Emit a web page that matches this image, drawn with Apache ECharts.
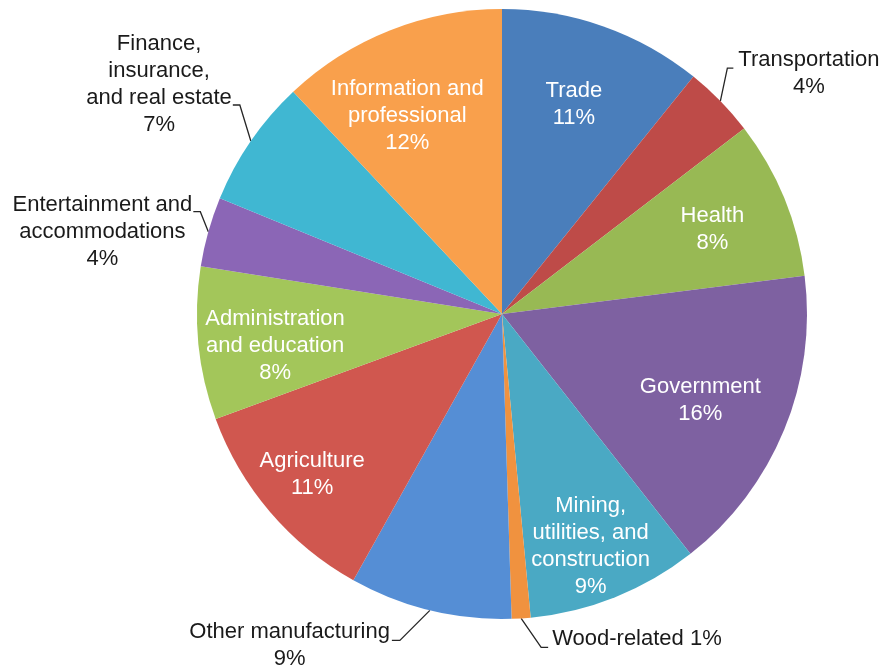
<!DOCTYPE html>
<html>
<head>
<meta charset="utf-8">
<script src="https://cdn.jsdelivr.net/npm/echarts@6/dist/echarts.min.js"></script>
<style>
html, body { margin: 0; padding: 0; background: #fff; }
#main { width: 885px; height: 672px; }
</style>
</head>
<body>
<div id="main"></div>
<script>
var sectors = [
  'Trade',
  'Transportation',
  'Health',
  'Government',
  'Mining,\nutilities, and\nconstruction',
  'Wood-related',
  'Other manufacturing',
  'Agriculture',
  'Administration\nand education',
  'Entertainment and\naccommodations',
  'Finance,\ninsurance,\nand real estate',
  'Information and\nprofessional'
];
var shares = [10.8, 3.8, 8.4, 16.4, 9.1, 1.0, 8.6, 11.3, 8.1, 3.7, 6.8, 12.0];

var colors = ['#4a7ebb', '#be4b48', '#98b954', '#7e61a1', '#4aa9c4', '#f0923f',
              '#558ed5', '#d0574f', '#a3c65a', '#8b66b6', '#40b7d2', '#f9a04c'];

// label placement: in = inside, deep = inside nearer the rim, out = leader line
var placement = ['in', 'out', 'in', 'in', 'deep', 'out', 'out', 'deep', 'in', 'out', 'out', 'in'];
var leaders = {
  1:  { side: 1,  elbow: [7, -33],  stub: 6, gap: 5, shift: 5 },
  5:  { side: 1,  elbow: [20, 29],  stub: 7, gap: 4, shift: -8, inline: true },
  6:  { side: -1, elbow: [-30, 30], stub: 8, gap: 2, shift: 5 },
  9:  { side: -1, elbow: [-8, -20], stub: 7, gap: 1, shift: 20 },
  10: { side: -1, elbow: [-11, -36], stub: 7, gap: 1, shift: -21 }
};
// small nudges for inside labels (excel's best-fit placement)
var nudges = { 0: [-2, 0], 2: [5, 0], 3: [-7, 2], 4: [-3, 3], 7: [-2, 0], 8: [-6, 10], 11: [-13, 8] };

var FONT = '"Liberation Sans", Arial, sans-serif';
var CENTER = [502, 314];
var R = 305;

function pct(v) { return Math.round(v) + '%'; }

function ring(inner, mode) {
  return {
    type: 'pie',
    silent: true,
    center: CENTER,
    radius: [inner, R],
    startAngle: 90,
    itemStyle: { color: 'rgba(0,0,0,0)' },
    label: {
      position: 'inside',
      color: '#fff',
      fontSize: 22,
      lineHeight: 27,
      fontFamily: FONT,
      formatter: function (p) { return p.name + '\n' + pct(p.value); }
    },
    labelLine: { show: false },
    labelLayout: function (p) {
      var n = nudges[p.dataIndex];
      if (n) return { dx: n[0], dy: n[1] };
    },
    emphasis: { disabled: true },
    data: sectors.map(function (n, i) {
      return { name: n, value: shares[i], label: { show: placement[i] === mode } };
    })
  };
}

var chart = echarts.init(document.getElementById('main'));
chart.setOption({
  animation: false,
  color: colors,
  series: [{
    type: 'pie',
    center: CENTER,
    radius: [0, R],
    startAngle: 90,
    avoidLabelOverlap: false,
    emphasis: { disabled: true },
    label: {
      position: 'outside',
      formatter: function (p) {
        var lines = p.name.split('\n');
        var g = leaders[p.dataIndex];
        if (g && g.inline) lines[lines.length - 1] += ' ' + pct(p.value);
        else lines.push(pct(p.value));
        return lines.map(function (l) { return '{c|' + l + '}'; }).join('\n');
      },
      rich: {
        c: { align: 'center', color: '#1a1a1a', fontSize: 22, lineHeight: 27, fontFamily: FONT }
      }
    },
    labelLine: { lineStyle: { color: '#262626', width: 1.3 } },
    labelLayout: function (p) {
      var g = leaders[p.dataIndex];
      if (!g || !p.labelLinePoints) return;
      var a = p.labelLinePoints[0];
      var e = [a[0] + g.elbow[0], a[1] + g.elbow[1]];
      var s = [e[0] + g.side * g.stub, e[1]];
      return {
        x: s[0] + g.side * g.gap,
        y: s[1] + g.shift,
        align: g.side < 0 ? 'right' : 'left',
        verticalAlign: 'middle',
        labelLinePoints: [a, e, s]
      };
    },
    data: sectors.map(function (n, i) {
      var out = placement[i] === 'out';
      return { name: n, value: shares[i], label: { show: out }, labelLine: { show: out } };
    })
  }, ring(133, 'in'), ring(183, 'deep')]
});
</script>
</body>
</html>
